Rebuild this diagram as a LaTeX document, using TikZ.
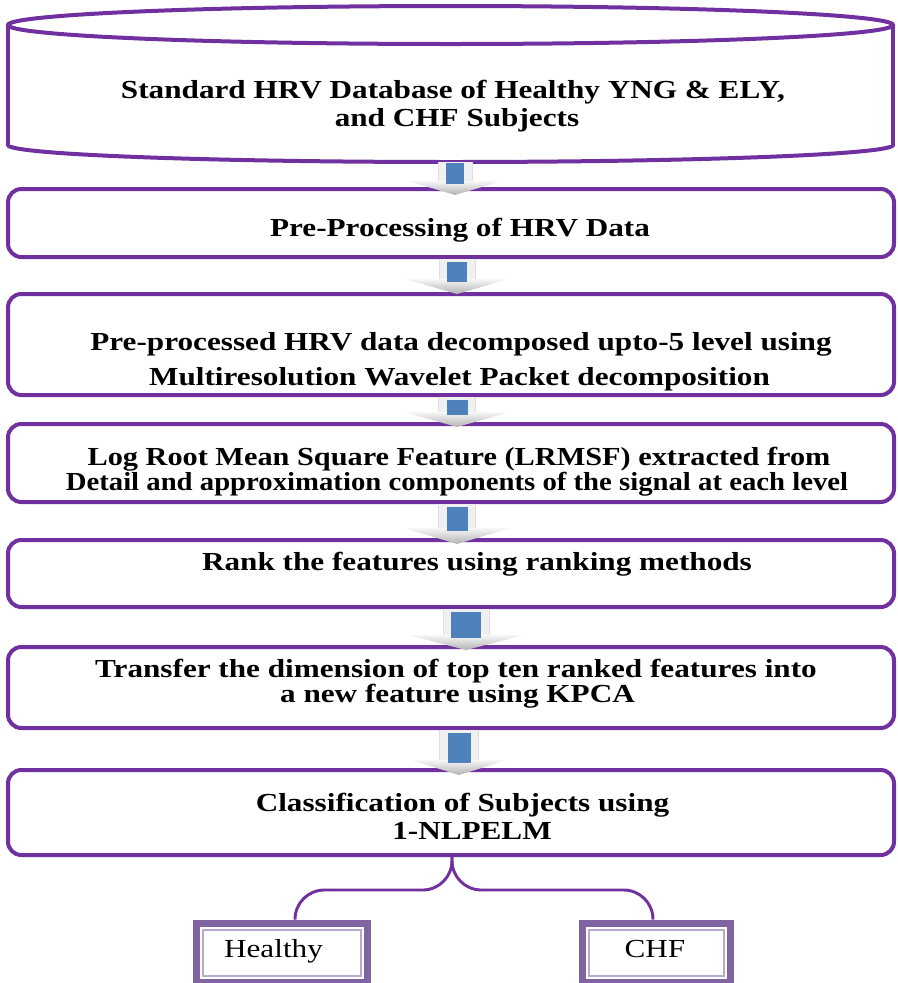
\documentclass[tikz,border=0pt]{standalone}
\usepackage{fontspec}
\setmainfont{Liberation Serif}
\usetikzlibrary{fit,calc}
\definecolor{hpurple}{HTML}{7030A0}
\definecolor{leafpurple}{HTML}{8064A2}
\definecolor{arrowblue}{HTML}{4F81BD}
\newcommand{\wide}[2][1.2]{\scalebox{#1}[1]{#2}}
% #1 from, #2 to, #3 cx, #4 blue half width, #5 head half width, #6 tip overshoot, #7 head height, #8 blue gap
\newcommand{\blockarrow}[8]{%
  \path (#3,0) coordinate (ax);
  \path (#1.south -| ax) coordinate (as);
  \path ($(#2.north -| ax)+(0,#6)$) coordinate (at);
  \path ($(at)+(0,-#7)$) coordinate (ah);
  \fill[gray!12] ($(as)+(-#4-8,0)$) rectangle ($(ah)+(#4+8,0)$);
  \draw[gray!25, line width=0.6pt] ($(as)+(-#4-8,0)$) -- ($(ah)+(-#4-8,0)$);
  \draw[gray!25, line width=0.6pt] ($(as)+(#4+8,0)$) -- ($(ah)+(#4+8,0)$);
  \shade[top color=gray!6, bottom color=gray!60] ($(ah)+(-#5,0)$) -- ($(ah)+(#5,0)$) -- (at) -- cycle;
  \fill[arrowblue] ($(as)+(-#4,#8)$) rectangle ($(ah)+(#4,3)$);
}
\begin{document}
\begin{tikzpicture}[x=0.75pt,y=-0.75pt,
  stagebox/.style={draw=hpurple, line width=3pt, rounded corners=10pt, inner sep=0pt},
  frame/.style={inner sep=0pt},
  txt/.style={inner sep=0pt, anchor=base, font=\fontsize{19.5}{20}\selectfont\bfseries},
  leaftxt/.style={inner sep=0pt, anchor=base, font=\fontsize{19.5}{20}\selectfont},
  brace/.style={draw=hpurple, line width=2.2pt, rounded corners=22pt},
  cyl/.style={draw=hpurple, line width=3pt}
]
\useasboundingbox (0,0) rectangle (898,983);
\clip (0,0) rectangle (898,983);

% database cylinder
\node[frame, fit={(8,6)(893,162)}] (b1) {};
\draw[cyl] (450.5,25) ellipse [x radius=442.5, y radius=19];
\draw[cyl] (8,25) -- (8,145);
\draw[cyl] (893,25) -- (893,145);
\begin{scope}
  \clip (0,145) rectangle (898,200);
  \draw[cyl] (450.5,145) ellipse [x radius=442.5, y radius=17];
\end{scope}

% process boxes
\node[stagebox, fit={(8,189)(894,257)}] (b2) {};
\node[stagebox, fit={(8,294)(894,395)}] (b3) {};
\node[stagebox, fit={(8,424)(894,502)}] (b4) {};
\node[stagebox, fit={(8,540)(894,607)}] (b5) {};
\node[stagebox, fit={(8,647)(894,728)}] (b6) {};
\node[stagebox, fit={(8,770)(894,855)}] (b7) {};

% texts
\node[txt] (t1a) at (453,98.6) {\wide{Standard HRV Database of Healthy YNG \& ELY,}};
\node[txt] (t1b) at (457,126.6) {\wide{and CHF Subjects}};
\node[txt] (t2) at (460,236.1) {\wide{Pre-Processing of HRV Data}};
\node[txt] (t3a) at (461,350.6) {\wide{Pre-processed HRV data decomposed upto-5 level using}};
\node[txt] (t3b) at (459.5,385.6) {\wide{Multiresolution Wavelet Packet decomposition}};
\node[txt] (t4a) at (459,465.6) {\wide[1.165]{Log Root Mean Square Feature (LRMSF) extracted from}};
\node[txt] (t4b) at (457,490.6) {\wide[1.105]{Detail and approximation components of the signal at each level}};
\node[txt] (t5) at (477,570.6) {\wide{Rank the features using ranking methods}};
\node[txt] (t6a) at (456,677.6) {\wide{Transfer the dimension of top ten ranked features into}};
\node[txt] (t6b) at (457.5,702.6) {\wide{a new feature using KPCA}};
\node[txt] (t7a) at (462.5,811.6) {\wide{Classification of Subjects using}};
\node[txt] (t7b) at (472,839.6) {\wide{1-NLPELM}};

% block arrows
\blockarrow{b1}{b2}{455}{9}{47}{8}{14}{1}
\blockarrow{b2}{b3}{457}{10}{52}{2}{15}{3}
\blockarrow{b3}{b4}{457}{10.5}{53}{5}{15}{3}
\blockarrow{b4}{b5}{457}{10.5}{53}{6}{16}{3}
\blockarrow{b5}{b6}{466}{15}{58}{5}{15}{3}
\blockarrow{b6}{b7}{459}{11.5}{48}{7}{15}{3}

% outcome boxes
\node[frame, fit={(193,920)(371,986)}] (hl) {};
\node[frame, fit={(579,920)(734,986)}] (chf) {};
\foreach \b in {hl,chf}{
  \fill[leafpurple] (\b.south west) rectangle (\b.north east);
  \fill[white] ($(\b.south west)+(7,-7)$) rectangle ($(\b.north east)+(-7,7)$);
  \fill[leafpurple!55] ($(\b.south west)+(9,-9)$) rectangle ($(\b.north east)+(-9,9)$);
  \fill[white] ($(\b.south west)+(11,-11)$) rectangle ($(\b.north east)+(-11,11)$);
}
\node[leaftxt] (thl) at (273.5,957.6) {\wide{Healthy}};
\node[leaftxt] (tchf) at (655,957.6) {\wide{CHF}};

% branching connector
\coordinate (bt) at (452,0);
\coordinate (hx) at (295,0);
\coordinate (cx) at (653,0);
\draw[brace] (b7.south -| bt) -- ($(b7.south -| bt)+(0,33)$) -| (hl.north -| hx);
\draw[brace] (b7.south -| bt) -- ($(b7.south -| bt)+(0,33)$) -| (chf.north -| cx);
\end{tikzpicture}
\end{document}
